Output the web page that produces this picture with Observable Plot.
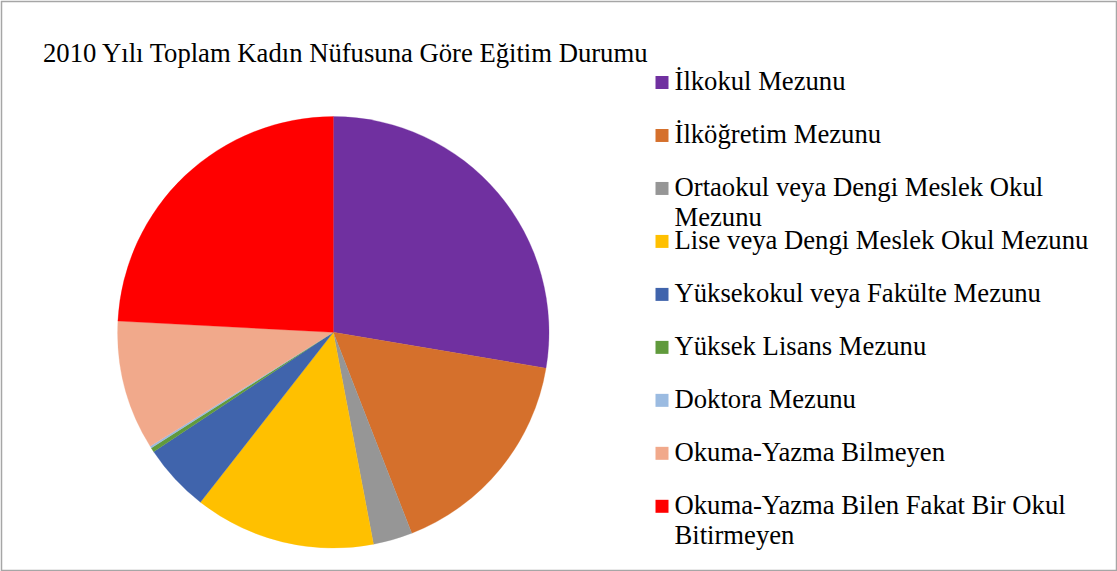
<!DOCTYPE html>
<html>
<head>
<meta charset="utf-8">
<script src="https://cdn.jsdelivr.net/npm/d3@7"></script>
<script src="https://cdn.jsdelivr.net/npm/@observablehq/plot@0.6"></script>
<style>
  html, body { margin: 0; padding: 0; background: #fff; overflow: hidden; }
  #chart svg { display: block; }
</style>
</head>
<body>
<div id="chart"></div>
<script>
// ---- data ----
const title = "2010 Yılı Toplam Kadın Nüfusuna Göre Eğitim Durumu";
const categories = [
  "İlkokul Mezunu",
  "İlköğretim Mezunu",
  "Ortaokul veya Dengi Meslek Okul Mezunu",
  "Lise veya Dengi Meslek Okul Mezunu",
  "Yüksekokul veya Fakülte Mezunu",
  "Yüksek Lisans Mezunu",
  "Doktora Mezunu",
  "Okuma-Yazma Bilmeyen",
  "Okuma-Yazma Bilen Fakat Bir Okul Bitirmeyen"
];
const shares = [27.66, 16.42, 2.94, 13.55, 5.10, 0.33, 0.14, 9.70, 24.17];
const colors = ["#7030A0", "#D5702C", "#969696", "#FFC000", "#4064AC", "#609A3C", "#9BBBE1", "#F1A98B", "#FF0000"];

// ---- layout ----
const W = 1117, H = 571;
const FONT = "Liberation Serif, Times New Roman, serif";
const FS = 26.67;
const LH = 30 / FS;
const pieCx = 333.3, pieCy = 332.3, pieR = 215.7;
const legendX = 674, legendMaxW = 430;

const rows = categories.map((c, i) => ({cat: c, value: shares[i]}));

// wrap legend labels by measured width
const ctx = document.createElement("canvas").getContext("2d");
ctx.font = `${FS}px ${FONT}`;
function wrap(label) {
  const words = label.split(" ");
  const lines = [];
  let cur = "";
  for (const w of words) {
    const t = cur ? cur + " " + w : w;
    if (cur && ctx.measureText(t).width > legendMaxW) { lines.push(cur); cur = w; }
    else cur = t;
  }
  if (cur) lines.push(cur);
  return lines.join("\n");
}

const colorScale = Plot.scale({color: {type: "ordinal", domain: categories, range: colors}});

function pieMark() {
  const g = d3.create("svg:g").attr("transform", `translate(${pieCx},${pieCy})`);
  const arcs = d3.pie().sort(null).value(d => d.value)(rows);
  const arc = d3.arc().innerRadius(0).outerRadius(pieR);
  g.selectAll("path").data(arcs).join("path")
    .attr("d", arc)
    .attr("fill", d => colorScale.apply(d.data.cat))
    .attr("stroke", d => colorScale.apply(d.data.cat))
    .attr("stroke-width", 0.3);
  return g.node();
}

const chart = Plot.plot({
  width: W,
  height: H,
  margin: 0,
  style: {background: "#fff", fontFamily: FONT},
  x: {axis: null},
  y: {type: "point", domain: categories, range: [89.5, 513.3], padding: 0, round: false, axis: null},
  color: {domain: categories, range: colors},
  marks: [
    Plot.frame({stroke: "#a6a6a6", strokeWidth: 1.5, inset: 1}),
    pieMark,
    Plot.text([title], {
      text: d => d, frameAnchor: "top-left", textAnchor: "start", lineAnchor: "bottom",
      dx: 42.5, dy: 61.5, fontFamily: FONT, fontSize: FS, fill: "#000"
    }),
    Plot.dot(rows, {
      y: "cat", frameAnchor: "left", dx: 661.5, dy: -7.5,
      symbol: "square", r: 7.33, fill: "cat"
    }),
    Plot.text(rows, {
      y: "cat", text: d => wrap(d.cat), frameAnchor: "left", textAnchor: "start",
      lineAnchor: "top", lineHeight: LH, dx: legendX, dy: -0.71 * LH * FS,
      fontFamily: FONT, fontSize: FS, fill: "#000"
    })
  ]
});
document.getElementById("chart").append(chart);
</script>
</body>
</html>
